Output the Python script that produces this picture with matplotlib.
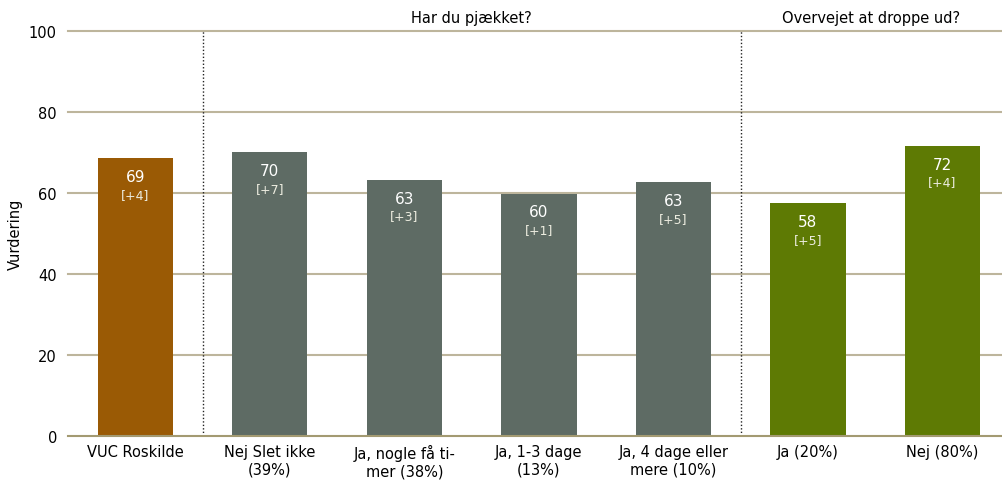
import matplotlib.pyplot as plt

kategorier = ["VUC Roskilde", "Nej Slet ikke\n(39%)", "Ja, nogle få ti-\nmer (38%)",
              "Ja, 1-3 dage\n(13%)", "Ja, 4 dage eller\nmere (10%)", "Ja (20%)", "Nej (80%)"]
vaerdier = [68.6, 70.1, 63.2, 59.8, 62.7, 57.5, 71.6]
etiketter = ["69", "70", "63", "60", "63", "58", "72"]
aendring = ["[+4]", "[+7]", "[+3]", "[+1]", "[+5]", "[+5]", "[+4]"]
farver = ["#9A5A05", "#5E6B64", "#5E6B64", "#5E6B64", "#5E6B64", "#5E7A04", "#5E7A04"]
grupper = ["Har du pjækket?", "Overvejet at droppe ud?"]

fig = plt.figure(figsize=(10.03, 4.81), dpi=100)
ax = fig.add_axes([0.0678, 0.0915, 0.9322, 0.842])

x = list(range(len(vaerdier)))
ax.bar(x, vaerdier, width=0.56, color=farver, zorder=3)

for xi, v, lab, ae in zip(x, vaerdier, etiketter, aendring):
    ax.annotate(lab, (xi, v), xytext=(0, -18), textcoords="offset pixels",
                ha="center", va="center", color="white", fontsize=11, zorder=4)
    ax.annotate(ae, (xi, v), xytext=(0, -36), textcoords="offset pixels",
                ha="center", va="center", color="#EDEDE0", fontsize=9, zorder=4)

ax.set_xlim(-0.5, 6.45)
ax.set_ylim(0, 100)
ax.set_yticks(range(0, 101, 20))
ax.set_xticks(x)
ax.set_xticklabels(kategorier, fontsize=10.5, va="top")
ax.tick_params(axis="both", length=0, labelsize=10.5)
ax.tick_params(axis="x", pad=6)
ax.tick_params(axis="y", pad=8)
ax.set_ylabel("Vurdering", fontsize=10.5, labelpad=4)

# gridlines drawn by hand so the top one is not clipped
for gy in range(20, 101, 20):
    ax.axhline(gy, color="#BDB59C", linewidth=1.5, zorder=0, clip_on=False)
ax.axhline(0, color="#A39A72", linewidth=1.5, zorder=5, clip_on=False)
for s in ax.spines.values():
    s.set_visible(False)

for sx in (0.5, 4.5):
    ax.axvline(sx, color="#222222", linestyle=(0, (1, 1.5)), linewidth=1, zorder=2)

ax.text(2.5, 101.5, grupper[0], ha="center", va="bottom", fontsize=10.5)
ax.text(5.47, 101.5, grupper[1], ha="center", va="bottom", fontsize=10.5)

fig.savefig("out.png", dpi=100)
